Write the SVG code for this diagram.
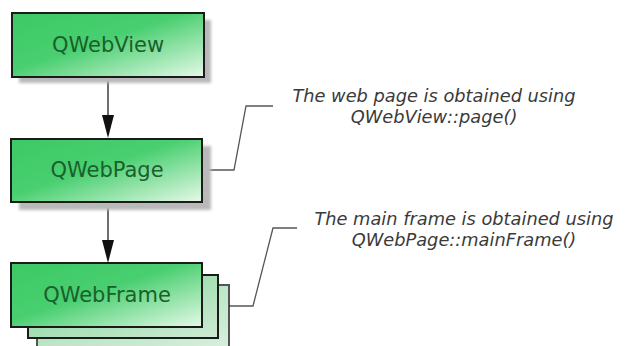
<svg xmlns="http://www.w3.org/2000/svg" width="625" height="346" viewBox="0 0 625 346">
<style>
.box{stroke:#1b1b1b;stroke-width:2}
.label{font-family:"DejaVu Sans",Verdana,sans-serif;font-size:21px;fill:#1a5f2c;text-anchor:middle}
.note{font-family:"DejaVu Sans",Verdana,sans-serif;font-style:italic;font-size:17.8px;fill:#3a3a3a;text-anchor:middle}
.conn{fill:none;stroke:#3c3c3c;stroke-width:1.5}
.callout{fill:none;stroke:#555;stroke-width:1.3}
.shadow{fill:#b9b9b9;filter:url(#blur)}
</style>
<defs>
<linearGradient id="g" x1="0" y1="0" x2="1" y2="1">
<stop offset="0" stop-color="#3cc964"/>
<stop offset="0.45" stop-color="#49cf70"/>
<stop offset="1" stop-color="#e6f9e8"/>
</linearGradient>
<linearGradient id="gb" x1="0" y1="0" x2="1" y2="1">
<stop offset="0" stop-color="#7fd396"/>
<stop offset="1" stop-color="#cdebd3"/>
</linearGradient>
<filter id="blur" x="-10%" y="-10%" width="120%" height="130%"><feGaussianBlur stdDeviation="1.5"/></filter>
</defs>
<rect width="625" height="346" fill="#fff"/>
<g id="connectors">
<line class="conn" x1="108" y1="77" x2="108" y2="115"/>
<path d="M102,115 L114,115 L108,138 Z" fill="#111"/>
<line class="conn" x1="108" y1="202" x2="108" y2="240"/>
<path d="M102,240 L114,240 L108,263 Z" fill="#111"/>
<polyline class="callout" points="202,170 234,170 246,106 273,106"/>
<polyline class="callout" points="229,306 253,306 273,228 297,228"/>
</g>
<g id="QWebView">
<rect class="shadow" x="19" y="20" width="192" height="63"/>
<rect class="box" x="12" y="13" width="192" height="64" fill="url(#g)"/>
<text class="label" x="108" y="52">QWebView</text>
</g>
<g id="QWebPage">
<rect class="shadow" x="19" y="146" width="192" height="64"/>
<rect class="box" x="11" y="139" width="191" height="63" fill="url(#g)"/>
<text class="label" x="107" y="177">QWebPage</text>
</g>
<g id="QWebFrame">
<rect class="box" x="37" y="285" width="192" height="70" fill="url(#gb)" opacity="0.75"/>
<rect class="box" x="28" y="275" width="190" height="63" fill="url(#gb)"/>
<rect class="box" x="11" y="263" width="191" height="64" fill="url(#g)"/>
<text class="label" x="107" y="302">QWebFrame</text>
</g>
<g id="note1">
<text class="note" x="434" y="102">The web page is obtained using</text>
<text class="note" x="434" y="123">QWebView::page()</text>
</g>
<g id="note2">
<text class="note" x="464" y="225">The main frame is obtained using</text>
<text class="note" x="464" y="246">QWebPage::mainFrame()</text>
</g>
</svg>
